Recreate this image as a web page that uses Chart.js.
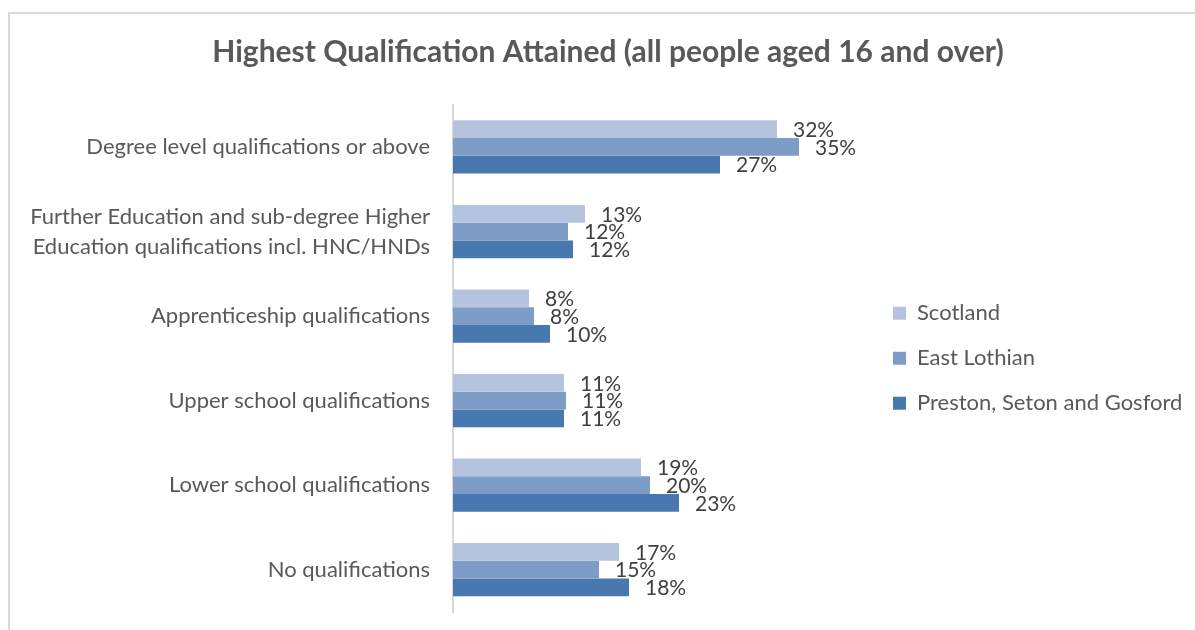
<!DOCTYPE html>
<html>
<head>
<meta charset="utf-8">
<script src="https://cdn.jsdelivr.net/npm/chart.js@4/dist/chart.umd.min.js"></script>
<style>
    html, body { margin: 0; padding: 0; background: #ffffff; overflow: hidden; }
    #frame {
        position: absolute; left: 8px; top: 12px; width: 1200px; height: 640px;
        border: 2px solid #d9d9d9; box-sizing: border-box;
    }
    #qualChart { position: absolute; left: 0; top: 0; }
</style>
</head>
<body>
<div id="frame"></div>
<canvas id="qualChart" width="1195" height="630"></canvas>
<script>
const categories = [
    'Degree level qualifications or above',
    ['Further Education and sub-degree Higher', 'Education qualifications incl. HNC/HNDs'],
    'Apprenticeship qualifications',
    'Upper school qualifications',
    'Lower school qualifications',
    'No qualifications'
];
const seriesNames = ['Scotland', 'East Lothian', 'Preston, Seton and Gosford'];
const scotlandValues = [32.4, 13.2, 7.6, 11.1, 18.8, 16.6];
const eastLothianValues = [34.6, 11.5, 8.1, 11.3, 19.7, 14.6];
const prestonValues = [26.7, 12.0, 9.7, 11.1, 22.6, 17.6];
const seriesColors = ['#b4c4de', '#7e9cc8', '#4878b0'];

const FONT = "Lato, 'Open Sans', sans-serif";

// draws the rounded % next to each bar end
const barValueLabels = {
    id: 'barValueLabels',
    afterDatasetsDraw(chart) {
        const ctx = chart.ctx;
        ctx.save();
        ctx.font = '21px ' + FONT;
        ctx.fillStyle = '#404040';
        ctx.textAlign = 'left';
        ctx.textBaseline = 'middle';
        chart.data.datasets.forEach((ds, i) => {
            chart.getDatasetMeta(i).data.forEach((bar, j) => {
                ctx.fillText(Math.round(ds.data[j]) + '%', bar.x + 16, bar.y + 1);
            });
        });
        ctx.restore();
    }
};

new Chart(document.getElementById('qualChart').getContext('2d'), {
    type: 'bar',
    data: {
        labels: categories,
        datasets: [scotlandValues, eastLothianValues, prestonValues].map((vals, i) => ({
            label: seriesNames[i],
            data: vals,
            backgroundColor: seriesColors[i],
            borderWidth: 0,
            barPercentage: 1,
            categoryPercentage: 0.63
        }))
    },
    options: {
        indexAxis: 'y',
        responsive: false,
        animation: false,
        layout: { padding: { top: 0, right: 4, bottom: 18, left: 25 } },
        plugins: {
            title: {
                display: true,
                text: 'Highest Qualification Attained (all people aged 16 and over)',
                color: '#595959',
                font: { family: FONT, size: 30, weight: 'bold' },
                padding: { top: 34, bottom: 34.7 }
            },
            legend: {
                position: 'right',
                align: 'center',
                fullSize: false,
                maxWidth: 321,
                labels: {
                    color: '#595959',
                    font: { family: FONT, size: 22 },
                    boxWidth: 13,
                    boxHeight: 13,
                    padding: 23
                }
            },
            tooltip: { enabled: false }
        },
        scales: {
            x: {
                display: false,
                min: 0,
                max: 41.7
            },
            y: {
                grid: { display: false, drawTicks: false },
                border: { display: true, color: '#d9d9d9', width: 2 },
                ticks: {
                    color: '#595959',
                    font: { family: FONT, size: 22, lineHeight: 1.36 },
                    padding: 23
                },
                afterFit(scale) {
                    scale.width = 428;
                    scale.paddingTop = 0;
                    scale.paddingBottom = 0;
                }
            }
        }
    },
    plugins: [barValueLabels]
});
</script>
</body>
</html>
